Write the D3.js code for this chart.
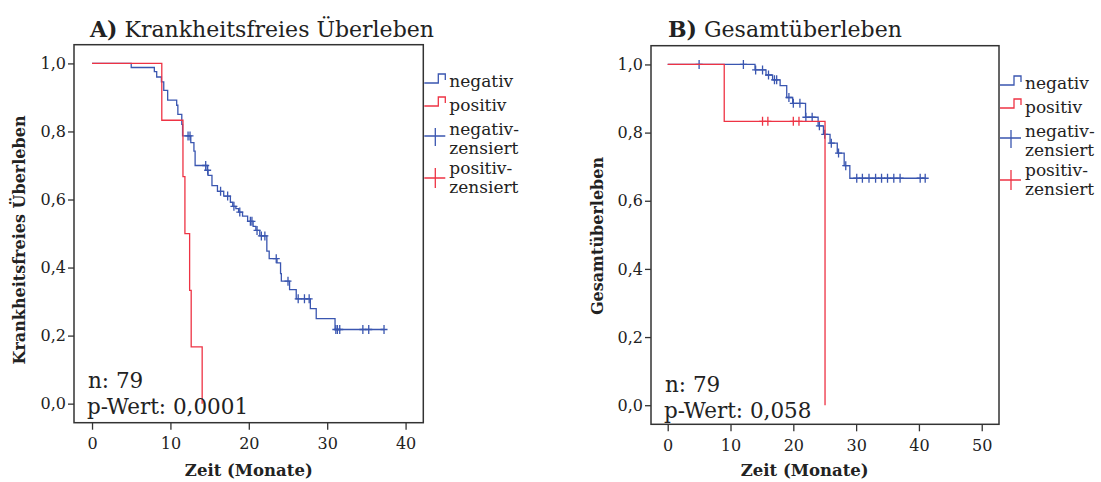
<!DOCTYPE html>
<html>
<head>
<meta charset="utf-8">
<script src="https://cdn.jsdelivr.net/npm/d3@7"></script>
<style>
  body { margin: 0; background: #fff; }
  text { font-family: "DejaVu Serif", serif; fill: #222; }
</style>
</head>
<body>
<div id="chart"></div>
<script>
// Kaplan-Meier curves
// A) disease-free survival
var aNegTimes = [5.0, 7.95, 8.25, 8.85, 9.15, 9.65, 10.8, 10.95, 11.45, 11.55, 12.6, 13.0, 13.15, 14.7, 14.8, 15.3, 16.0, 16.8, 17.65, 17.95, 18.35, 18.7, 19.2, 19.85, 20.55, 20.9, 21.4, 22.3, 22.6, 23.6, 24.05, 24.15, 25.2, 26.05, 27.85, 28.6, 31.0];
var aNegSurv  = [0.988, 0.976, 0.960, 0.946, 0.921, 0.892, 0.877, 0.850, 0.821, 0.787, 0.767, 0.742, 0.700, 0.686, 0.671, 0.641, 0.624, 0.610, 0.592, 0.580, 0.573, 0.563, 0.551, 0.536, 0.521, 0.509, 0.493, 0.448, 0.426, 0.414, 0.382, 0.360, 0.335, 0.308, 0.279, 0.250, 0.218];
var aNegCens  = [12.25, 12.5, 14.5, 14.75, 16.4, 17.3, 18.1, 18.85, 20.2, 20.4, 21.05, 21.6, 22.05, 23.5, 25.0, 26.3, 27.1, 27.7, 31.1, 31.3, 31.6, 34.55, 35.3, 37.25];
var aNegEnd   = 37.25;
var aPosTimes = [8.9, 11.6, 11.85, 12.45, 12.65, 14.05];
var aPosSurv  = [0.833, 0.667, 0.5, 0.333, 0.167, 0];
var aPosCens  = [];
var aPosEnd   = 14.05;

// B) overall survival
var bNegTimes = [13.9, 15.65, 16.7, 17.9, 18.95, 19.9, 21.95, 23.95, 24.8, 25.85, 27.0, 28.1, 29.0];
var bNegSurv  = [0.984, 0.969, 0.955, 0.938, 0.903, 0.886, 0.845, 0.820, 0.795, 0.769, 0.740, 0.703, 0.666];
var bNegCens  = [5.0, 12.05, 14.0, 15.1, 16.05, 17.0, 17.35, 19.3, 20.0, 21.05, 22.0, 23.0, 24.15, 25.0, 26.05, 27.2, 28.35, 30.1, 31.0, 32.05, 33.1, 34.05, 35.0, 36.0, 37.0, 40.2, 41.0];
var bNegEnd   = 41.0;
var bPosTimes = [9.0, 25.05];
var bPosSurv  = [0.833, 0];
var bPosCens  = [15.1, 15.95, 20.0, 20.9];
var bPosEnd   = 25.05;

var yTicks = [0, 0.2, 0.4, 0.6, 0.8, 1.0];
var aXTicks = [0, 10, 20, 30, 40];
var bXTicks = [0, 10, 20, 30, 40, 50];
var legendLabels = ['negativ', 'positiv', ['negativ-', 'zensiert'], ['positiv-', 'zensiert']];

var blue = '#3a56b0', red = '#ee3344';

var svg = d3.select('#chart').append('svg')
    .attr('width', 1101)
    .attr('height', 482);

function survAt(times, surv, t) {
    var s = 1;
    for (var i = 0; i < times.length; i++) {
        if (times[i] <= t) s = surv[i];
    }
    return s;
}

function drawPanel(p) {
    var x = d3.scaleLinear().domain(p.xDomain).range([p.left, p.right]);
    var y = d3.scaleLinear().domain([-0.056, 1.055]).range([p.bottom, p.top]);
    var g = svg.append('g');

    // titles
    var t = g.append('text')
        .attr('x', p.titleX).attr('y', 37)
        .style('font-size', '22px');
    t.append('tspan').style('font-weight', 'bold').text(p.letter);
    t.append('tspan').text(' ' + p.title);

    g.append('rect')
        .attr('x', p.left).attr('y', p.top)
        .attr('width', p.right - p.left).attr('height', p.bottom - p.top)
        .attr('fill', 'none').attr('stroke', '#333').attr('stroke-width', 1.5);

    var fmt = function(d) { return d.toFixed(1).replace('.', ','); };

    var yAxis = g.append('g')
        .attr('transform', 'translate(' + p.left + ',0)')
        .call(d3.axisLeft(y).tickValues(yTicks).tickSize(6).tickPadding(2).tickFormat(fmt));
    var xAxis = g.append('g')
        .attr('transform', 'translate(0,' + p.bottom + ')')
        .call(d3.axisBottom(x).tickValues(p.xTicks).tickSize(7).tickPadding(8));
    [xAxis, yAxis].forEach(function(a) {
        a.select('.domain').remove();
        a.selectAll('line').attr('stroke', '#333').attr('stroke-width', 1.3);
        a.selectAll('text').style('font-family', '"DejaVu Serif", serif')
            .style('font-size', '16px').attr('fill', '#222');
    });

    g.append('text')
        .attr('x', (x(0) + x(p.xTicks[p.xTicks.length - 1])) / 2 + p.xLabelShift)
        .attr('y', 476)
        .attr('text-anchor', 'middle')
        .style('font-size', '16.5px').style('font-weight', 'bold')
        .text('Zeit (Monate)');

    g.append('text')
        .attr('transform', 'translate(' + p.yLabelX + ',' + p.yLabelY + ') rotate(-90)')
        .attr('text-anchor', 'middle')
        .style('font-size', '16px').style('font-weight', 'bold')
        .text(p.yLabel);

    // curves
    p.series.forEach(function(s) {
        var pts = [[0, 1]];
        var prev = 1;
        s.times.forEach(function(tt, i) {
            pts.push([tt, prev]);
            pts.push([tt, s.surv[i]]);
            prev = s.surv[i];
        });
        pts.push([s.end, prev]);
        g.append('path')
            .attr('d', d3.line().x(function(d) { return x(d[0]); }).y(function(d) { return y(d[1]); })(pts))
            .attr('fill', 'none').attr('stroke', s.color).attr('stroke-width', 1.3);
        s.cens.forEach(function(c) {
            var cx = x(c), cy = y(survAt(s.times, s.surv, c));
            g.append('path')
                .attr('d', 'M' + (cx - 3.5) + ',' + cy + 'H' + (cx + 3.5) + 'M' + cx + ',' + (cy - 4.5) + 'V' + (cy + 4.5))
                .attr('stroke', s.color).attr('stroke-width', 1.3);
        });
    });

    // n / p-value
    g.append('text').attr('x', p.left + 14).attr('y', p.bottom - 35 + p.statShift)
        .style('font-size', '21.5px').text('n: 79');
    g.append('text').attr('x', p.left + 13).attr('y', p.bottom - 9 + p.statShift)
        .style('font-size', '21.5px').text('p-Wert: ' + p.pValue);

    // legend
    var lx = p.right + 1, ly = p.legendY;
    var lg = g.append('g').attr('transform', 'translate(' + lx + ',' + ly + ')');
    lg.append('path').attr('d', 'M0,9H14V0H21V6').attr('fill', 'none').attr('stroke', blue).attr('stroke-width', 1.3);
    lg.append('path').attr('d', 'M0,32H14V23H21V29').attr('fill', 'none').attr('stroke', red).attr('stroke-width', 1.3);
    lg.append('path').attr('d', 'M0,62H21M11,54V72').attr('fill', 'none').attr('stroke', blue).attr('stroke-width', 1.3);
    lg.append('path').attr('d', 'M0,104H21M11,94V114').attr('fill', 'none').attr('stroke', red).attr('stroke-width', 1.3);
    var ty = [13, 37, [61, 80], [100, 119]];
    legendLabels.forEach(function(lab, i) {
        var lines = Array.isArray(lab) ? lab : [lab];
        var ys = Array.isArray(ty[i]) ? ty[i] : [ty[i]];
        lines.forEach(function(l, j) {
            lg.append('text').attr('x', 25).attr('y', ys[j])
                .style('font-size', '17px').text(l);
        });
    });
}

drawPanel({
    left: 74, right: 423.3, top: 44.7, bottom: 422.7,
    xDomain: [-2.3, 42.26], xTicks: aXTicks, xLabelShift: 0,
    titleX: 90, letter: 'A)', title: 'Krankheitsfreies Überleben',
    yLabel: 'Krankheitsfreies Überleben', yLabelX: 25, yLabelY: 240,
    pValue: '0,0001', statShift: 0, legendY: 74,
    series: [
        { times: aNegTimes, surv: aNegSurv, cens: aNegCens, end: aNegEnd, color: blue },
        { times: aPosTimes, surv: aPosSurv, cens: aPosCens, end: aPosEnd, color: red }
    ]
});

drawPanel({
    left: 651, right: 999, top: 45.7, bottom: 424.3,
    xDomain: [-2.66, 52.75], xTicks: bXTicks, xLabelShift: -20,
    titleX: 668, letter: 'B)', title: 'Gesamtüberleben',
    yLabel: 'Gesamtüberleben', yLabelX: 603, yLabelY: 236,
    pValue: '0,058', statShift: 3, legendY: 76,
    series: [
        { times: bNegTimes, surv: bNegSurv, cens: bNegCens, end: bNegEnd, color: blue },
        { times: bPosTimes, surv: bPosSurv, cens: bPosCens, end: bPosEnd, color: red }
    ]
});
</script>
</body>
</html>
